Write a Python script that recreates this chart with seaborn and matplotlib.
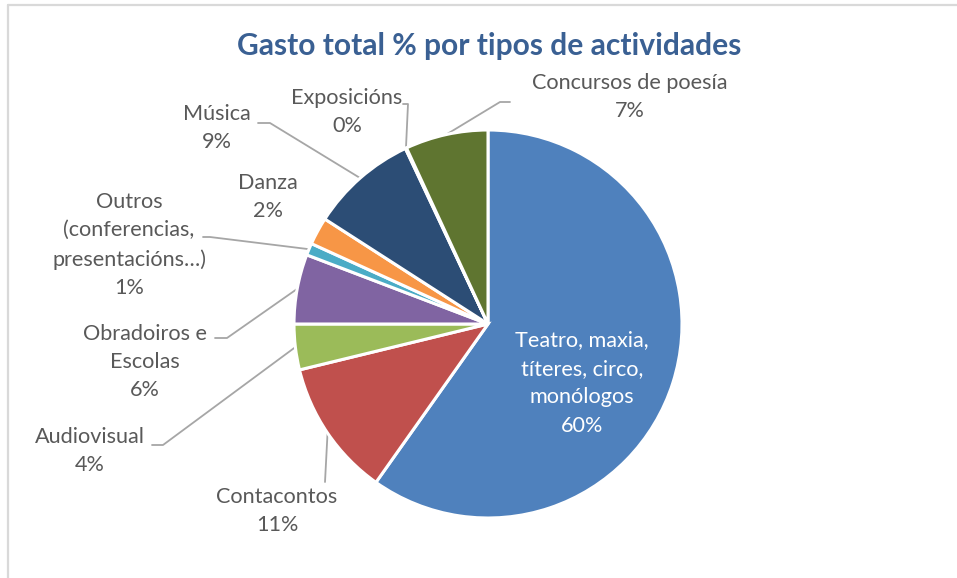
import matplotlib
matplotlib.use("Agg")
import matplotlib.pyplot as plt
import seaborn as sns
import numpy as np

categories = ["Teatro, maxia,\ntíteres, circo,\nmonólogos", "Contacontos", "Audiovisual",
              "Obradoiros e\nEscolas", "Outros\n(conferencias,\npresentacións…)", "Danza",
              "Música", "Exposicións", "Concursos de poesía"]
values = [59.8, 11.4, 3.8, 5.8, 1.0, 2.3, 8.9, 0.1, 6.9]
pct_labels = ["60%", "11%", "4%", "6%", "1%", "2%", "9%", "0%", "7%"]
colors = ["#4F81BD", "#C0504D", "#9BBB59", "#8064A2", "#4BACC6", "#F79646",
          "#2C4D75", "#772C2A", "#5F7530"]

sns.set_theme(style="white")
plt.rcParams['font.family'] = ['Lato', 'DejaVu Sans']

W, H = 957, 578
fig = plt.figure(figsize=(W / 100, H / 100), dpi=100)
ax = fig.add_axes([0, 0, 1, 1])

cx, cy, R = 488, 324, 194
wedges, _ = ax.pie(values, colors=colors, startangle=90, counterclock=False,
                   center=(cx, H - cy), radius=R,
                   wedgeprops=dict(edgecolor="white", linewidth=2.2))
ax.set_xlim(0, W)
ax.set_ylim(0, H)
ax.set_aspect("equal")
ax.axis("off")

# border
fig.add_artist(plt.Line2D([8 / W, 8 / W], [0, 1 - 5 / H], color="#D9D9D9", lw=1.6, transform=fig.transFigure))
fig.add_artist(plt.Line2D([8 / W, 1], [1 - 5 / H, 1 - 5 / H], color="#D9D9D9", lw=1.6, transform=fig.transFigure))

ax.text(489, H - 46, "Gasto total % por tipos de actividades", ha="center", va="center",
        fontsize=21.6, fontweight="bold", color="#3A6093")

txt_color = "#595959"
line_color = "#A6A6A6"
fs = 15.6

# label layout: (text center x, text center y in px, leader path points after the wedge edge)
layout = [
    (582, 383, None),
    (277, 511, [(325, 482)]),
    (90, 451, [(163, 445), (152, 445)]),
    (145, 362, [(227, 338), (215, 338)]),
    (129, 245, [(210, 237), (203, 237)]),
    (268, 197, None),
    (217, 128, [(270, 123), (258, 123)]),
    (347, 112, [(408, 104), (403, 104)]),
    (630, 97, [(500, 102), (510, 102)]),
]

for i, (w, cat, pct) in enumerate(zip(wedges, categories, pct_labels)):
    tx, ty, path = layout[i]
    col = "white" if i == 0 else txt_color
    ax.text(tx, H - ty, cat + "\n" + pct, ha="center", va="center", fontsize=fs,
            color=col, linespacing=1.53)
    if path:
        mid = np.deg2rad((w.theta1 + w.theta2) / 2)
        sx = cx + R * np.cos(mid)
        sy = (H - cy) + R * np.sin(mid)
        xs = [sx] + [p[0] for p in path]
        ys = [sy] + [H - p[1] for p in path]
        ax.plot(xs, ys, color=line_color, lw=1.3, zorder=0)

fig.savefig("out.png", dpi=100, facecolor="white")
